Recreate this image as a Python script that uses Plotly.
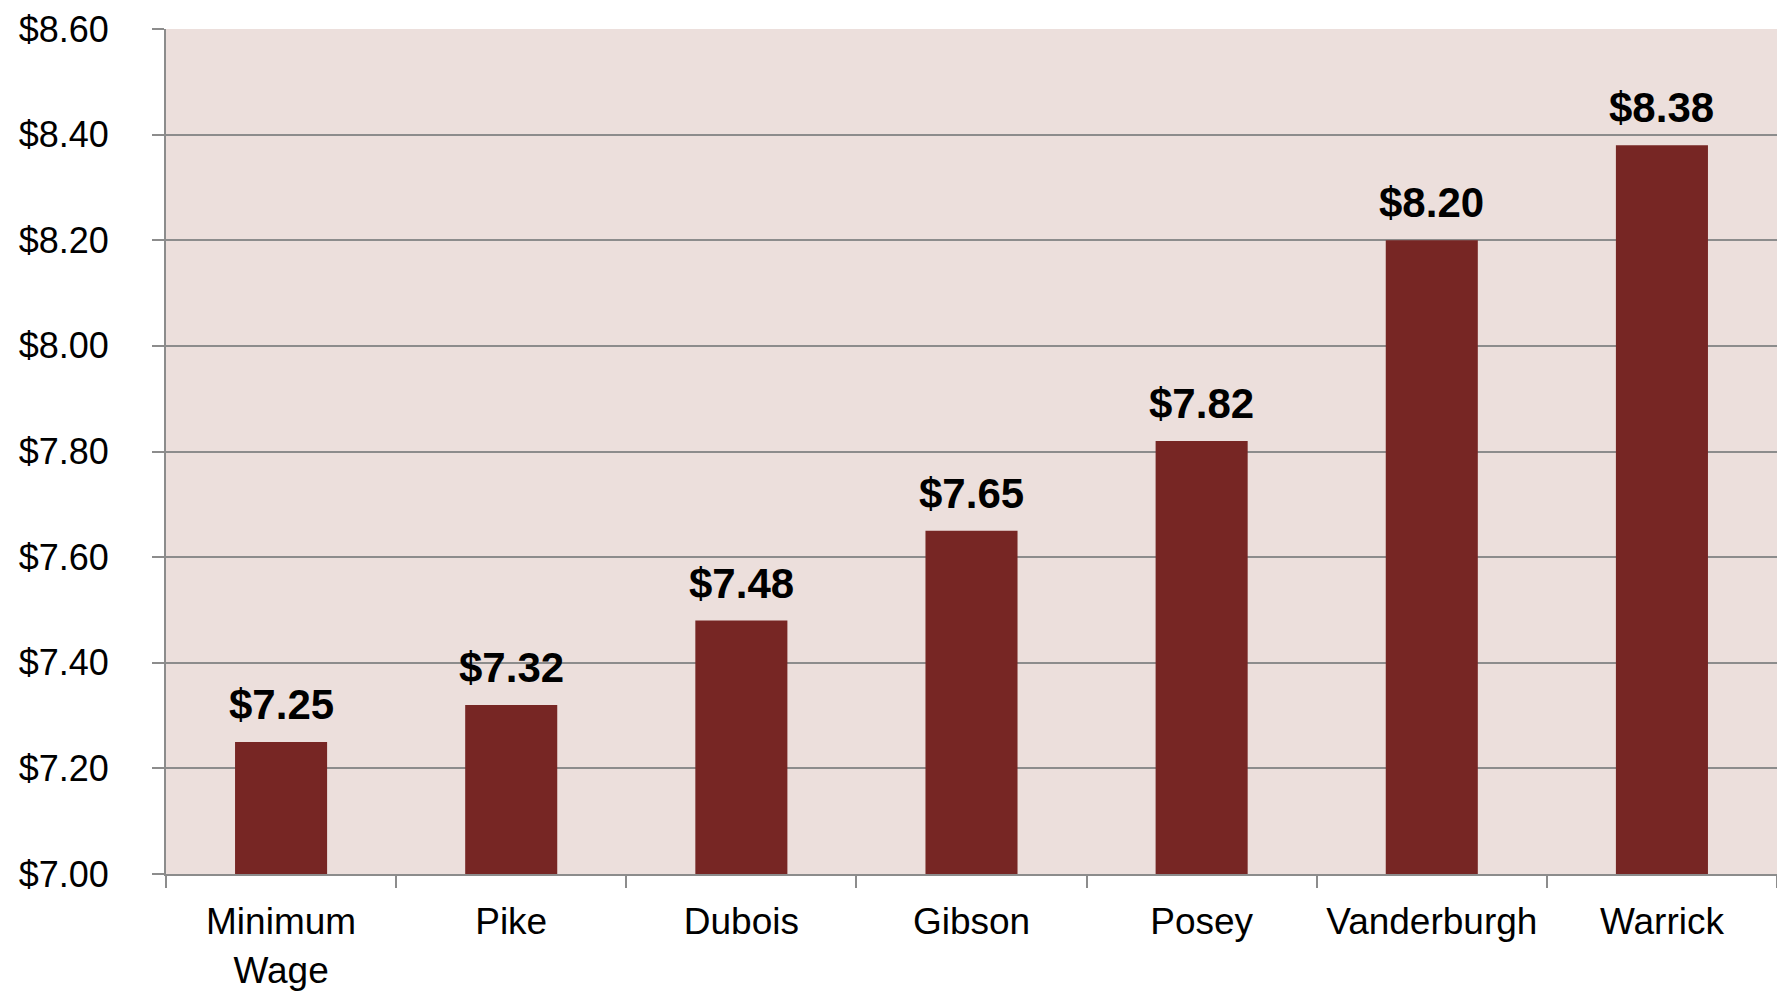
import plotly.graph_objects as go

categories = ["Minimum<br>Wage", "Pike", "Dubois", "Gibson", "Posey", "Vanderburgh", "Warrick"]
wages = [7.25, 7.32, 7.48, 7.65, 7.82, 8.20, 8.38]
labels = ["$%.2f" % v for v in wages]
y_ticks = [7.0, 7.2, 7.4, 7.6, 7.8, 8.0, 8.2, 8.4, 8.6]
y_tick_text = ["$%.2f" % v for v in y_ticks]

fig = go.Figure(go.Bar(
    x=categories, y=wages,
    marker=dict(color="#772624", line=dict(width=0)),
))

for c, v, t in zip(categories, wages, labels):
    fig.add_annotation(
        x=c, y=v, text="<b>%s</b>" % t, showarrow=False,
        yanchor="bottom", yshift=12,
        font=dict(family="Liberation Sans, Arial", size=42, color="black"),
    )

fig.update_layout(
    width=1777, height=985,
    margin=dict(l=158, r=8, t=21, b=119),
    paper_bgcolor="white", plot_bgcolor="#ECDFDC",
    bargap=0.6, showlegend=False,
    font=dict(family="Liberation Sans, Arial", color="black"),
)
fig.update_yaxes(
    range=[7.0, 8.6], tickvals=y_ticks, ticktext=y_tick_text,
    tickfont=dict(size=36, color="black"),
    showgrid=True, gridcolor="#8c8c8c", gridwidth=2,
    showline=True, linecolor="#8c8c8c", linewidth=2,
    ticks="outside", ticklen=12, tickcolor="#8c8c8c", tickwidth=2,
    ticklabelstandoff=36, ticklabeloverflow="allow",
    zeroline=False, automargin=False,
)
fig.update_xaxes(
    tickfont=dict(size=37, color="black"),
    showline=True, linecolor="#8c8c8c", linewidth=2,
    ticks="outside", ticklen=12, tickcolor="#8c8c8c", tickwidth=2,
    tickson="boundaries", showgrid=False,
    ticklabelstandoff=14, ticklabeloverflow="allow", automargin=False,
)

fig.write_html("out.html")
